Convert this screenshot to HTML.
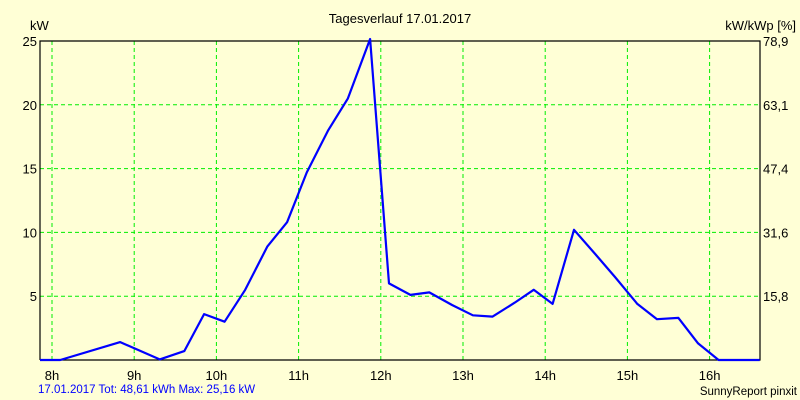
<!DOCTYPE html>
<html><head><meta charset="utf-8"><style>
html,body{margin:0;padding:0;background:#ffffd6;}
svg{display:block;font-family:"Liberation Sans",sans-serif;font-size:13px;}
</style></head><body>
<svg width="800" height="400" xmlns="http://www.w3.org/2000/svg">
<rect x="0" y="0" width="800" height="400" fill="#ffffd6"/>
<text x="400" y="23" text-anchor="middle">Tagesverlauf 17.01.2017</text>
<text x="30" y="30">kW</text>
<text x="796" y="30" text-anchor="end">kW/kWp [%]</text>
<g id="grid"></g>
<g id="axes"></g>
<g id="labels"></g>
<polyline id="line" fill="none" stroke="#0000ff" stroke-width="2.2" stroke-linejoin="round"/>
<text x="38" y="393" fill="#0000ff" font-size="11.5">17.01.2017 Tot: 48,61 kWh Max: 25,16 kW</text>
<text x="797" y="395" text-anchor="end" font-size="11.5">SunnyReport pinxit</text>
</svg>
<script>
const hours = [7.85,8.10,8.83,9.31,9.61,9.85,10.10,10.35,10.62,10.86,11.10,11.36,11.60,11.87,12.10,12.36,12.59,12.87,13.12,13.36,13.63,13.86,14.09,14.35,14.61,14.85,15.12,15.36,15.62,15.86,16.11,16.61];
const power = [0,0,1.4,0.05,0.7,3.6,3.0,5.5,8.9,10.8,14.7,18.0,20.5,25.16,6.0,5.1,5.3,4.3,3.5,3.4,4.5,5.5,4.4,10.2,8.3,6.5,4.4,3.2,3.3,1.3,0,0];
const xTicks = [8,9,10,11,12,13,14,15,16];
const yTicks = [5,10,15,20,25];
const rightTickLabels = ["15,8","31,6","47,4","63,1","78,9"];

const L=40,R=760,T=41,B=360;
const x = h => 52 + (h-8)*82.2;
const y = v => B - v*(B-T)/25;
const NS="http://www.w3.org/2000/svg";
const grid=document.getElementById('grid'), axes=document.getElementById('axes'), labels=document.getElementById('labels');
function mk(tag,attrs,parent){const e=document.createElementNS(NS,tag);for(const k in attrs)e.setAttribute(k,attrs[k]);parent.appendChild(e);return e;}
xTicks.forEach(h=>{
  const g=mk('line',{x1:x(h),x2:x(h),y1:T,y2:B,stroke:'#00ee00','stroke-dasharray':'4,3','stroke-width':1},grid);
  
  
  const t=mk('text',{x:x(h),y:B+20,'text-anchor':'middle'},labels);
  t.textContent=h+'h';
  
  
});
yTicks.forEach((v,i)=>{
  const g=mk('line',{x1:L,x2:R,y1:y(v),y2:y(v),stroke:'#00ee00','stroke-dasharray':'4,3','stroke-width':1},grid);
  
  
  const t=mk('text',{x:L-3,y:y(v)+5,'text-anchor':'end'},labels);
  t.textContent=v;
  
  
  const t2=mk('text',{x:R+3,y:y(v)+5},labels);
  t2.textContent=rightTickLabels[i];
  
  
});
const ax=mk('path',{d:`M${L},${B}V${T}H${R}V${B}H${L}`,fill:'none',stroke:'#000','stroke-width':1.2},axes);


document.getElementById('line').setAttribute('points',hours.map((h,i)=>`${Math.max(L,Math.min(R,x(h))).toFixed(1)},${y(power[i]).toFixed(1)}`).join(' '));
</script>
</body></html>
